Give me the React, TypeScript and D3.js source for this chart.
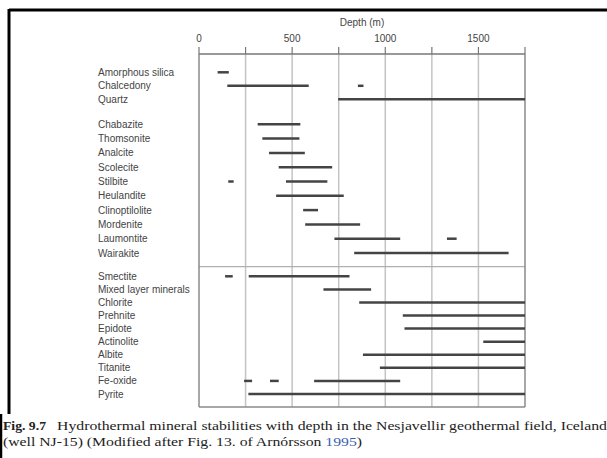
import React from "react";
import * as d3 from "d3";

const depthTicks = [0, 500, 1000, 1500];
const minorTicks = [0, 250, 500, 750, 1000, 1250, 1500, 1750];
const gridDepths = [250, 500, 750, 1000, 1250, 1500];

const silicaNames = ["Amorphous silica", "Chalcedony", "Quartz"];
const silicaRanges: number[][][] = [
  [[100, 160]],
  [[152, 589], [853, 883]],
  [[747, 1750]],
];

const zeoliteNames = [
  "Chabazite", "Thomsonite", "Analcite", "Scolecite", "Stilbite",
  "Heulandite", "Clinoptilolite", "Mordenite", "Laumontite", "Wairakite",
];
const zeoliteRanges: number[][][] = [
  [[315, 544]],
  [[340, 539]],
  [[376, 568]],
  [[428, 715]],
  [[157, 186], [467, 689]],
  [[414, 777]],
  [[559, 639]],
  [[570, 865]],
  [[727, 1080], [1331, 1383]],
  [[833, 1662]],
];

const otherNames = [
  "Smectite", "Mixed layer minerals", "Chlorite", "Prehnite", "Epidote",
  "Actinolite", "Albite", "Titanite", "Fe-oxide", "Pyrite",
];
const otherRanges: number[][][] = [
  [[140, 181], [267, 808]],
  [[668, 924]],
  [[860, 1750]],
  [[1094, 1750]],
  [[1103, 1750]],
  [[1526, 1750]],
  [[880, 1750]],
  [[971, 1750]],
  [[242, 285], [381, 428], [618, 1080]],
  [[265, 1750]],
];

const captionLabel = "Fig. 9.7";
const captionLine1 =
  "Hydrothermal mineral stabilities with depth in the Nesjavellir geothermal field, Iceland";
const captionLine2a = "(well NJ-15) (Modified after Fig. 13. of Arnórsson ";
const captionLine2b = "1995";
const captionLine2c = ")";

export default function App() {
  const W = 607;
  const H = 458;
  const left = 199;
  const right = 525;
  const top = 54;
  const bottom = 407;
  const sepY = 266.7;

  const x = d3.scaleLinear().domain([0, 1750]).range([left, right]);

  const groups = [
    { names: silicaNames, ranges: silicaRanges, y: d3.scalePoint<string>().domain(silicaNames).range([72.3, 99.3]) },
    { names: zeoliteNames, ranges: zeoliteRanges, y: d3.scalePoint<string>().domain(zeoliteNames).range([124.3, 253]) },
    { names: otherNames, ranges: otherRanges, y: d3.scalePoint<string>().domain(otherNames).range([276.3, 394]) },
  ];

  const font = "'Liberation Sans', Arial, Helvetica, sans-serif";
  const serif = "'Liberation Serif', 'Times New Roman', serif";

  return (
    <svg
      width={W}
      height={H}
      style={{ position: "absolute", left: 0, top: 0, display: "block", background: "#fff" }}
    >
      <rect x={0} y={0} width={W} height={H} fill="#fff" />
      {/* frame */}
      <line x1={9} x2={W} y1={10} y2={10} stroke="#000" strokeWidth={3} />
      <line x1={9} x2={9} y1={9} y2={414} stroke="#000" strokeWidth={3} />
      <line x1={1} x2={1} y1={414} y2={H} stroke="#000" strokeWidth={2.5} />

      {/* gridlines */}
      {gridDepths.map((d) => (
        <line key={"g" + d} x1={x(d)} x2={x(d)} y1={top} y2={bottom} stroke="#c4c4c4" strokeWidth={1.5} />
      ))}
      {/* separator */}
      <line x1={left} x2={right} y1={sepY} y2={sepY} stroke="#b0b0b0" strokeWidth={1.2} />
      {/* plot border */}
      <line x1={left} x2={left} y1={top} y2={bottom} stroke="#8a8a8a" strokeWidth={1.5} />
      <line x1={right} x2={right} y1={top} y2={bottom} stroke="#8a8a8a" strokeWidth={1.5} />
      <line x1={left} x2={right} y1={bottom} y2={bottom} stroke="#8a8a8a" strokeWidth={1.5} />
      <line x1={left} x2={right} y1={top} y2={top} stroke="#777" strokeWidth={1.5} />

      {/* axis ticks */}
      {minorTicks.map((d) => (
        <line key={"t" + d} x1={x(d)} x2={x(d)} y1={47} y2={top} stroke="#777" strokeWidth={1.2} />
      ))}
      {depthTicks.map((d) => (
        <text key={"l" + d} x={x(d)} y={42} textAnchor="middle" fontFamily={font} fontSize={10} fill="#444">
          {d}
        </text>
      ))}
      <text x={(left + right) / 2} y={26} textAnchor="middle" fontFamily={font} fontSize={10} fill="#444">
        Depth (m)
      </text>

      {/* rows */}
      {groups.map((g, gi) =>
        g.names.map((name, i) => {
          const yy = g.y(name) as number;
          return (
            <g key={gi + "-" + name}>
              <text x={98} y={yy + 3.5} fontFamily={font} fontSize={10} fill="#444">
                {name}
              </text>
              {g.ranges[i].map((r, k) => (
                <line
                  key={k}
                  x1={x(r[0])}
                  x2={x(r[1])}
                  y1={yy}
                  y2={yy}
                  stroke="#444"
                  strokeWidth={2.5}
                />
              ))}
            </g>
          );
        })
      )}

      {/* caption */}
      <text x={3} y={430} fontFamily={serif} fontSize={13.5} fill="#222" fontWeight="bold" textLength={43} lengthAdjust="spacingAndGlyphs">
        {captionLabel}
      </text>
      <text x={57} y={430} fontFamily={serif} fontSize={13.5} fill="#222" textLength={550} lengthAdjust="spacingAndGlyphs">
        {captionLine1}
      </text>
      <text x={3} y={446} fontFamily={serif} fontSize={13.5} fill="#222" textLength={359} lengthAdjust="spacingAndGlyphs">
        {captionLine2a}
        <tspan fill="#3a5fb0">{captionLine2b}</tspan>
        {captionLine2c}
      </text>
    </svg>
  );
}
